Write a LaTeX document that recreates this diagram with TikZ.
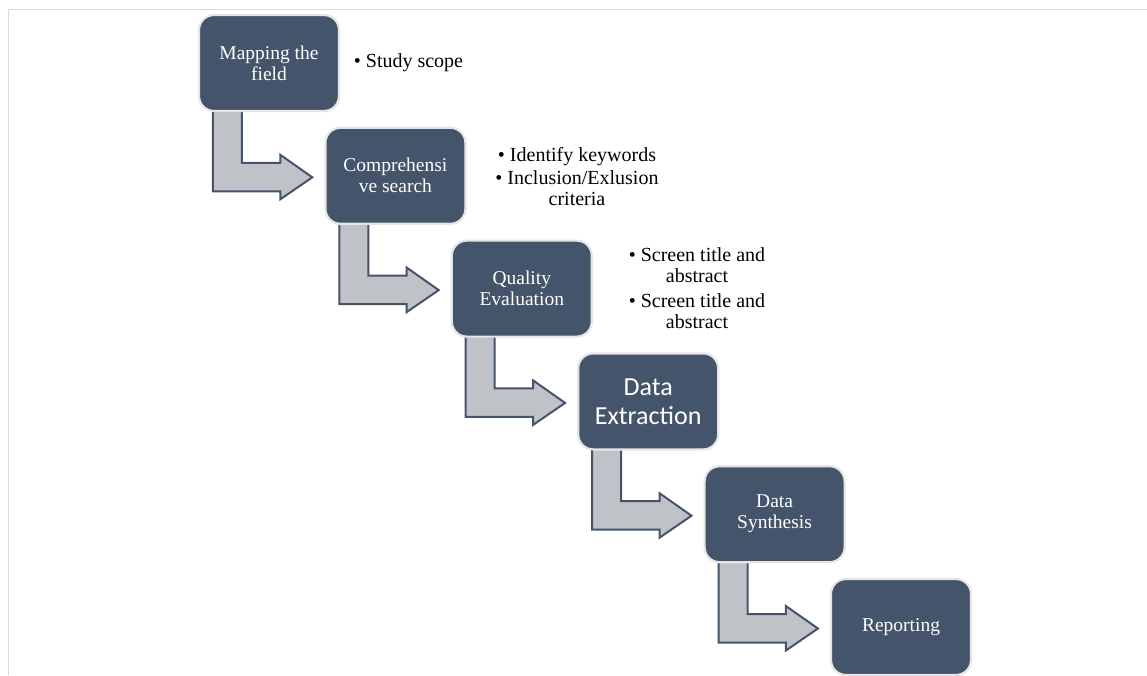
\documentclass[tikz,border=0pt]{standalone}
\usepackage{fontspec}
\setmainfont{Liberation Serif}
\newfontfamily\carlitofont{Carlito}
\usetikzlibrary{calc}
\pgfdeclarelayer{background}
\pgfsetlayers{background,main}
\definecolor{boxblue}{HTML}{44546A}
\definecolor{arrowgray}{HTML}{BFC3C8}
\definecolor{edgegray}{HTML}{E6E6E6}
\definecolor{framegray}{HTML}{D9D9D9}
\begin{document}
\begin{tikzpicture}[x=1pt,y=-1pt,
  stepbox/.style={draw=edgegray, line width=2.2pt, fill=boxblue, rounded corners=15pt,
    minimum width=140pt, minimum height=96pt, inner sep=2pt, text=white, align=center,
    font=\fontsize{19.5}{21}\selectfont},
  bullets/.style={align=center, font=\fontsize{20}{21}\selectfont, text=black, inner sep=0pt},
  bentarrow/.style={fill=arrowgray, draw=boxblue, line width=2pt, line join=miter}]
\useasboundingbox (0,0) rectangle (1147,675);
\draw[framegray, line width=1.5pt] (8.5,675) -- (8.5,9.5) -- (1147,9.5);

\node[stepbox] (b1) at (269,63) {Mapping the\\field};
\node[stepbox] (b2) at (395.4,175.8) {Comprehensi\\ve search};
\node[stepbox] (b3) at (521.8,288.6) {Quality\\Evaluation};
\node[stepbox, font=\carlitofont\fontsize{26}{29}\selectfont] (b4) at (648.2,401.4) {Data\\Extraction};
\node[stepbox] (b5) at (774.6,514.2) {Data\\Synthesis};
\node[stepbox] (b6) at (901,627) {Reporting};

\begin{pgfonlayer}{background}
\foreach \a/\b in {b1/b2, b2/b3, b3/b4, b4/b5, b5/b6}{
  \draw[bentarrow] let \p1=(\a.south west), \p2=(\b.west) in
    (\x1+15pt,\y1+2pt) -- (\x1+15pt,\y2-15.5pt) -- (\x2-44pt,\y2-15.5pt)
    -- (\x2-44pt,\y2-23.5pt) -- (\x2-12pt,\y2-1.5pt) -- (\x2-44pt,\y2+21pt)
    -- (\x2-44pt,\y2+13pt) -- (\x1+44pt,\y2+13pt) -- (\x1+44pt,\y1+2pt) -- cycle;
}
\end{pgfonlayer}

\node[bullets] (t1) at (408.5,63) {• Study scope};
\node[bullets] (t2) at (577,177) {• Identify keywords\\[2pt]• Inclusion/Exlusion\\criteria};
\node[bullets] (t3) at (697,288) {• Screen title and\\abstract\\[4pt]• Screen title and\\abstract};
\end{tikzpicture}
\end{document}
